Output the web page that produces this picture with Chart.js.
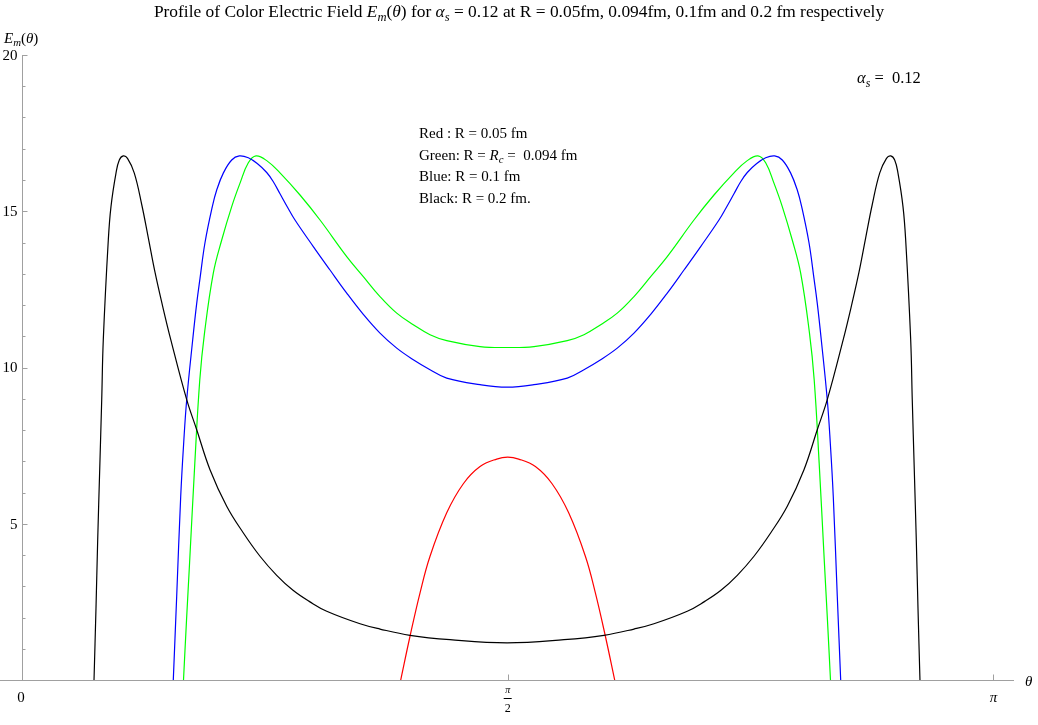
<!DOCTYPE html>
<html>
<head>
<meta charset="utf-8">
<script src="https://cdn.jsdelivr.net/npm/chart.js@4.4.0/dist/chart.umd.min.js"></script>
<style>
  html, body { margin: 0; padding: 0; background: #fff; }
  canvas { display: block; }
</style>
</head>
<body>
<canvas id="c" width="1038" height="725"></canvas>
<script>
// theta in radians, E_m(theta)
var blackTheta = [0.2329, 0.2393, 0.2448, 0.2513, 0.2578, 0.2629, 0.2791, 0.2878, 0.304, 0.3147, 0.3276, 0.3412, 0.3632, 0.3875, 0.4085, 0.4301, 0.4551, 0.4809, 0.5327, 0.565, 0.608, 0.662, 0.7148, 0.7697, 0.8237, 0.8765, 0.9314, 0.9855, 1.0932, 1.1578, 1.2549, 1.3842, 1.5686,
  1.7528, 1.8821, 1.9792, 2.0438, 2.1515, 2.2056, 2.2605, 2.3133, 2.3673, 2.4222, 2.475, 2.529, 2.572, 2.6043, 2.6561, 2.6819, 2.7069, 2.7285, 2.7495, 2.7738, 2.7958, 2.8094, 2.8223, 2.833, 2.8492, 2.8579, 2.8741, 2.8792, 2.8857, 2.8922, 2.8977, 2.9041];
var blackE = [0, 2.3, 4.49, 6.73, 8.97, 10.89, 14.08, 15.15, 16.22, 16.64, 16.77, 16.69, 16.22, 15.2, 14.15, 13.05, 11.95, 10.9, 8.97, 8.01, 6.73, 5.56, 4.72, 3.96, 3.35, 2.87, 2.50, 2.20, 1.80, 1.63, 1.43, 1.29, 1.19,
  1.29, 1.43, 1.63, 1.80, 2.20, 2.50, 2.87, 3.35, 3.96, 4.72, 5.56, 6.73, 8.01, 8.97, 10.9, 11.95, 13.05, 14.15, 15.2, 16.22, 16.69, 16.77, 16.64, 16.22, 15.15, 14.08, 10.89, 8.97, 6.73, 4.49, 2.3, 0];

var blueTheta = [0.4893, 0.5003, 0.5133, 0.523, 0.5327, 0.5521, 0.565, 0.5757, 0.5919, 0.6155, 0.6297, 0.651, 0.6782, 0.7028, 0.7319, 0.7617, 0.7914, 0.8118, 0.8344, 0.8587, 0.8829, 0.9421, 0.9961, 1.0502, 1.1038, 1.1578, 1.2119, 1.2655, 1.3196, 1.3736, 1.4813, 1.5686,
  1.6557, 1.7634, 1.8174, 1.8715, 1.9251, 1.9792, 2.0332, 2.0868, 2.1409, 2.1949, 2.2541, 2.2783, 2.3026, 2.3252, 2.3456, 2.3753, 2.4051, 2.4342, 2.4588, 2.486, 2.5073, 2.5215, 2.5451, 2.5613, 2.572, 2.5849, 2.6043, 2.614, 2.6237, 2.6367, 2.6477];
var blueE = [0, 2.68, 5.88, 7.6, 8.97, 10.89, 12.05, 12.85, 14.0, 15.15, 15.68, 16.22, 16.64, 16.77, 16.71, 16.52, 16.24, 15.96, 15.56, 15.13, 14.72, 13.87, 13.12, 12.38, 11.70, 11.1, 10.62, 10.25, 9.93, 9.66, 9.45, 9.37,
  9.45, 9.66, 9.93, 10.25, 10.62, 11.1, 11.70, 12.38, 13.12, 13.87, 14.72, 15.13, 15.56, 15.96, 16.24, 16.52, 16.71, 16.77, 16.64, 16.22, 15.68, 15.15, 14.0, 12.85, 12.05, 10.89, 8.97, 7.6, 5.88, 2.68, 0];

var greenTheta = [0.5223, 0.532, 0.542, 0.5589, 0.575, 0.5902, 0.6187, 0.6459, 0.6782, 0.7051, 0.7319, 0.7568, 0.7914, 0.8344, 0.8991, 0.9638, 1.0502, 1.1038, 1.1578, 1.2119, 1.2655, 1.3196, 1.3736, 1.4813, 1.5686,
  1.6557, 1.7634, 1.8174, 1.8715, 1.9251, 1.9792, 2.0332, 2.0868, 2.1732, 2.2379, 2.3026, 2.3456, 2.3802, 2.4051, 2.4319, 2.4588, 2.4911, 2.5183, 2.5468, 2.562, 2.5781, 2.595, 2.605, 2.6147];
var greenE = [0, 1.9, 3.75, 6.94, 9.61, 11.1, 13.02, 14.08, 15.15, 15.9, 16.55, 16.77, 16.62, 16.23, 15.52, 14.72, 13.55, 12.91, 12.27, 11.74, 11.37, 11.05, 10.86, 10.67, 10.64,
  10.67, 10.86, 11.05, 11.37, 11.74, 12.27, 12.91, 13.55, 14.72, 15.52, 16.23, 16.62, 16.77, 16.55, 15.9, 15.15, 14.08, 13.02, 11.1, 9.61, 6.94, 3.75, 1.9, 0];

var redTheta = [1.2248, 1.2549, 1.2873, 1.3196, 1.3736, 1.4273, 1.4813, 1.5353, 1.5708, 1.6063, 1.6603, 1.7143, 1.768, 1.822, 1.8543, 1.8867, 1.9168];
var redE = [0, 1.40, 2.79, 3.96, 5.35, 6.28, 6.83, 7.07, 7.13, 7.07, 6.83, 6.28, 5.35, 3.96, 2.79, 1.40, 0];

var yTicks = [5, 10, 15, 20];
var yTickLabels = ['5', '10', '15', '20'];
var yMinorStep = 1;
var xTicks = [0, Math.PI / 2, Math.PI];
var xTickLabels = ['0', 'π/2', 'π'];

var serif = "'Liberation Serif', 'DejaVu Serif', serif";
var axisGray = '#a0a0a0';

function pts(xs, ys) {
  return xs.map(function (x, i) { return { x: x, y: ys[i] }; });
}

// text with italic / subscript pieces
function drawRich(ctx, runs, x, y, size, align) {
  function font(r) {
    var sub = r[1].indexOf('s') >= 0;
    return (r[1].indexOf('i') >= 0 ? 'italic ' : '') + (sub ? size * 0.72 : size) + 'px ' + serif;
  }
  var w = 0;
  runs.forEach(function (r) { ctx.font = font(r); w += ctx.measureText(r[0]).width; });
  var cx = align === 'center' ? x - w / 2 : x;
  runs.forEach(function (r) {
    ctx.font = font(r);
    ctx.fillText(r[0], cx, y + (r[1].indexOf('s') >= 0 ? size * 0.22 : 0));
    cx += ctx.measureText(r[0]).width;
  });
}

var decor = {
  id: 'decor',
  afterDraw: function (chart) {
    var ctx = chart.ctx, xs = chart.scales.x, ys = chart.scales.y;
    var x0 = Math.round(xs.getPixelForValue(0)) + 0.5;
    var y0 = Math.round(ys.getPixelForValue(0)) + 0.5;
    ctx.save();
    ctx.strokeStyle = axisGray;
    ctx.lineWidth = 1;
    // inward ticks on the y axis
    for (var v = yMinorStep; v <= 20; v += yMinorStep) {
      var py = Math.round(ys.getPixelForValue(v)) + 0.5;
      var len = (v % 5 === 0) ? 5 : 3;
      ctx.beginPath(); ctx.moveTo(x0, py); ctx.lineTo(x0 + len, py); ctx.stroke();
    }
    // ticks on the x axis
    xTicks.slice(1).forEach(function (t) {
      var px = Math.round(xs.getPixelForValue(t)) + 0.5;
      ctx.beginPath(); ctx.moveTo(px, y0); ctx.lineTo(px, y0 - 6); ctx.stroke();
    });

    ctx.fillStyle = '#000';
    // y tick labels
    ctx.textAlign = 'right';
    ctx.textBaseline = 'middle';
    ctx.font = '15px ' + serif;
    yTicks.forEach(function (t, i) {
      ctx.fillText(yTickLabels[i], x0 - 5, ys.getPixelForValue(t) + 1);
    });

    ctx.textBaseline = 'alphabetic';
    ctx.textAlign = 'center';
    ctx.font = '15px ' + serif;
    ctx.fillText(xTickLabels[0], xs.getPixelForValue(xTicks[0]) - 1, 702);
    ctx.font = 'italic 15px ' + serif;
    ctx.fillText(xTickLabels[2], xs.getPixelForValue(xTicks[2]), 702);
    var hx = xs.getPixelForValue(xTicks[1]);
    ctx.font = 'italic 10px ' + serif;
    ctx.fillText('π', hx, 693);
    ctx.font = '12px ' + serif;
    ctx.fillText('2', hx, 712);
    ctx.beginPath(); ctx.strokeStyle = '#000'; ctx.moveTo(hx - 4, 698.5); ctx.lineTo(hx + 4, 698.5); ctx.stroke();

    ctx.textAlign = 'left';
    drawRich(ctx, [['θ', 'i']], 1025, 686, 15);
    drawRich(ctx, [['E', 'i'], ['m', 'is'], ['(', ''], ['θ', 'i'], [')', '']], 4, 43, 15);
    drawRich(ctx, [['Profile of Color Electric Field ', ''], ['E', 'i'], ['m', 'is'], ['(', ''], ['θ', 'i'], [')', ''],
      [' for ', ''], ['α', 'i'], ['s', 'is'], [' = 0.12 at R = 0.05fm, 0.094fm, 0.1fm and 0.2 fm respectively', '']], 519, 17, 17.4, 'center');
    drawRich(ctx, [['α', 'i'], ['s', 'is'], [' =  0.12', '']], 857, 83, 16.5);
    drawRich(ctx, [['Red : R = 0.05 fm', '']], 419, 138, 15);
    drawRich(ctx, [['Green: R = ', ''], ['R', 'i'], ['c', 'is'], [' =  0.094 fm', '']], 419, 159.5, 15);
    drawRich(ctx, [['Blue: R = 0.1 fm', '']], 419, 181, 15);
    drawRich(ctx, [['Black: R = 0.2 fm.', '']], 419, 202.5, 15);
    ctx.restore();
  }
};

var pxPerRad = 971.4 / Math.PI;

new Chart(document.getElementById('c'), {
  type: 'line',
  data: {
    datasets: [
      { label: 'Black: R = 0.2 fm', data: pts(blackTheta, blackE), borderColor: '#000000' },
      { label: 'Blue: R = 0.1 fm', data: pts(blueTheta, blueE), borderColor: '#0000ff' },
      { label: 'Green: R = 0.094 fm', data: pts(greenTheta, greenE), borderColor: '#00ff00' },
      { label: 'Red: R = 0.05 fm', data: pts(redTheta, redE), borderColor: '#ff0000' }
    ]
  },
  options: {
    responsive: false,
    animation: false,
    devicePixelRatio: 1,
    layout: { padding: { left: 0, right: 25, top: 55, bottom: 45 }, autoPadding: false },
    elements: {
      point: { radius: 0 },
      line: { borderWidth: 1.2, tension: 0.4, fill: false }
    },
    plugins: {
      legend: { display: false },
      tooltip: { enabled: false },
      title: { display: false }
    },
    scales: {
      x: {
        type: 'linear',
        position: { y: 0 },
        min: -22 / pxPerRad,
        max: 991 / pxPerRad,
        grid: { display: false },
        border: { color: axisGray, width: 1 },
        ticks: { display: false }
      },
      y: {
        type: 'linear',
        position: { x: 0 },
        min: 0,
        max: 20,
        grid: { display: false },
        border: { color: axisGray, width: 1 },
        ticks: { display: false }
      }
    }
  },
  plugins: [decor]
});
</script>
</body>
</html>
